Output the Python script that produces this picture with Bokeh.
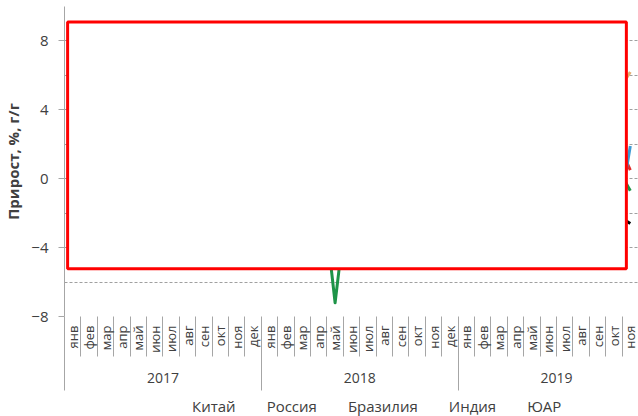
from math import pi
from bokeh.plotting import figure
from bokeh.layouts import column
from bokeh.models import Range1d, LinearAxis, FixedTicker, BoxAnnotation, Legend, LegendItem
from bokeh.embed import file_html
from bokeh.resources import INLINE

months = ["янв", "фев", "мар", "апр", "май", "июн", "июл", "авг", "сен", "окт", "ноя", "дек"]
years = ["2017", "2018", "2019"]
month_labels = months * 2 + months[:11]

china = [6.3, 6.3, 7.6, 6.5, 6.5, 7.6, 6.4, 6.0, 6.6, 6.2, 6.1, 6.2,
         7.2, 7.2, 6.0, 7.0, 6.8, 6.0, 6.0, 6.1, 5.8, 5.9, 5.4, 5.7,
         5.3, 5.3, 8.5, 5.4, 5.0, 6.3, 4.8, 4.4, 5.8, 4.7, 6.2]
russia = [2.3, -2.7, 0.8, 2.3, 5.6, 3.5, 1.1, 1.5, 0.9, 0.0, -3.6, -1.5,
          2.9, 1.5, 1.3, 3.9, 3.7, 2.2, 3.9, 2.7, 2.1, 3.7, 2.4, 2.0,
          1.1, 4.1, 1.2, 4.6, 0.9, 3.3, 2.8, 2.9, 3.0, 2.6, 0.5]
brazil = [1.4, -0.8, 1.1, -4.5, 4.0, 0.5, 2.5, 4.0, 2.6, 5.3, 4.7, 4.3,
          5.7, 2.8, 1.3, 1.2, -7.2, 0.8, 4.0, 2.0, -2.0, 1.1, -0.9, -3.6,
          -2.6, -2.2, -4.6, 2.7, 7.1, -4.8, -2.5, -1.7, 1.1, 1.0, -0.7]
india = [3.3, 1.2, 2.5, 3.2, 2.9, -0.3, 1.0, 4.8, 4.1, 1.8, 8.5, 7.1,
         7.5, 6.9, 5.3, 4.5, 3.8, 7.0, 6.5, 4.8, 4.6, 8.4, 0.2, 2.5,
         1.6, 0.2, -0.1, 4.3, 4.6, 1.3, 4.9, -1.4, -4.6, -3.8, 1.9]
south_africa = [-3.9, -2.6, -1.8, -0.6, -1.6, 1.1, -1.2, 2.5, 2.3, 1.9, 1.0, 2.2,
                0.7, 1.1, 1.1, 1.6, 1.5, 0.6, 0.8, 1.8, 2.7, -1.9, 1.4, -0.8,
                -1.1, -3.9, -4.2, -0.9, -3.2, 0.4, -1.1, -1.4, -1.2, -2.0, -2.6]

series_names = ["Китай", "Россия", "Бразилия", "Индия", "ЮАР"]
series_values = [china, russia, brazil, india, south_africa]
series_colors = ["#E3AE6E", "#E02A2A", "#1E9448", "#3C9AD4", "#000000"]

y_ticks = [-8, -4, 0, 4, 8]
y_grid = [-8, -6, -4, -2, 0, 2, 4, 6, 8, 10]

FONT = "Open Sans"
TXT = "#404040"
SEP = "#A6A6A6"

n = len(month_labels)
xs = [i + 0.5 for i in range(n)]

p = figure(width=638, height=392,
           x_range=Range1d(0, n), y_range=Range1d(-8, 10),
           x_axis_type=None, output_backend="svg", toolbar_location=None,
           min_border_left=57, min_border_right=0, min_border_top=6, min_border_bottom=76)
p.outline_line_color = None
p.background_fill_color = "white"

# y axis
ya = p.yaxis[0]
ya.ticker = FixedTicker(ticks=y_ticks, minor_ticks=[])
ya.axis_label = "Прирост, %, г/г"
ya.axis_label_text_font = FONT
ya.axis_label_text_font_style = "bold"
ya.axis_label_text_font_size = "15px"
ya.axis_label_text_color = TXT
ya.axis_label_standoff = 5
ya.major_label_text_font = FONT
ya.major_label_text_font_size = "15px"
ya.major_label_text_color = TXT
ya.major_label_standoff = 10
ya.major_tick_out = 6
ya.major_tick_in = 0
ya.major_tick_line_color = SEP
ya.axis_line_color = SEP

p.ygrid.ticker = FixedTicker(ticks=y_grid)
p.ygrid.grid_line_color = "#A0A0A0"
p.ygrid.grid_line_dash = "3 2"
p.ygrid.grid_line_width = 1

# month axis
ax_m = LinearAxis(ticker=FixedTicker(ticks=xs, minor_ticks=list(range(n + 1))),
                  major_label_overrides={x: m for x, m in zip(xs, month_labels)},
                  major_label_orientation=pi / 2)
ax_m.axis_line_color = None
ax_m.major_tick_out = 0
ax_m.major_tick_in = 0
ax_m.minor_tick_out = 40
ax_m.minor_tick_in = 0
ax_m.minor_tick_line_color = SEP
ax_m.major_label_standoff = -31
ax_m.major_label_text_font = FONT
ax_m.major_label_text_font_size = "13px"
ax_m.major_label_text_color = TXT
p.add_layout(ax_m, "below")

# year axis
year_centers = [6 + 12 * i for i in range(len(years))]
ax_y = LinearAxis(ticker=FixedTicker(ticks=year_centers, minor_ticks=[0, 12, 24]),
                  major_label_overrides={c: y for c, y in zip(year_centers, years)})
ax_y.axis_line_color = None
ax_y.major_tick_out = 0
ax_y.major_tick_in = 0
ax_y.minor_tick_out = 35
ax_y.minor_tick_in = 0
ax_y.minor_tick_line_color = SEP
ax_y.major_label_standoff = -18
ax_y.major_label_text_font = FONT
ax_y.major_label_text_font_size = "14px"
ax_y.major_label_text_color = TXT
p.add_layout(ax_y, "below")

for vals, col in zip(series_values, series_colors):
    p.line(xs, vals, line_color=col, line_width=3, line_join="round")

box = BoxAnnotation(left=0.19, right=34.26, top=9.1, bottom=-5.23,
                    fill_color="white", fill_alpha=1.0,
                    line_color="#FF0000", line_alpha=1.0, line_width=3)
p.add_layout(box)

# legend strip below the chart
pl = figure(width=638, height=24, x_range=Range1d(0, 1), y_range=Range1d(0, 1),
            x_axis_type=None, y_axis_type=None, output_backend="svg",
            toolbar_location=None, min_border=0)
pl.outline_line_color = None
pl.grid.visible = False
items = []
for name, col in zip(series_names, series_colors):
    r = pl.line([], [], line_color=col, line_width=3)
    items.append(LegendItem(label=name, renderers=[r]))

legend = Legend(items=items, orientation="horizontal", location=(107, 0))
legend.glyph_width = 20
legend.glyph_height = 16
legend.label_standoff = 1
legend.spacing = 10
legend.padding = 2
legend.margin = 0
legend.border_line_color = None
legend.background_fill_alpha = 0
legend.label_text_font = FONT
legend.label_text_font_size = "15px"
legend.label_text_color = TXT
pl.add_layout(legend)

layout = column(p, pl, spacing=0)
open("out.html", "w").write(file_html(layout, INLINE))
